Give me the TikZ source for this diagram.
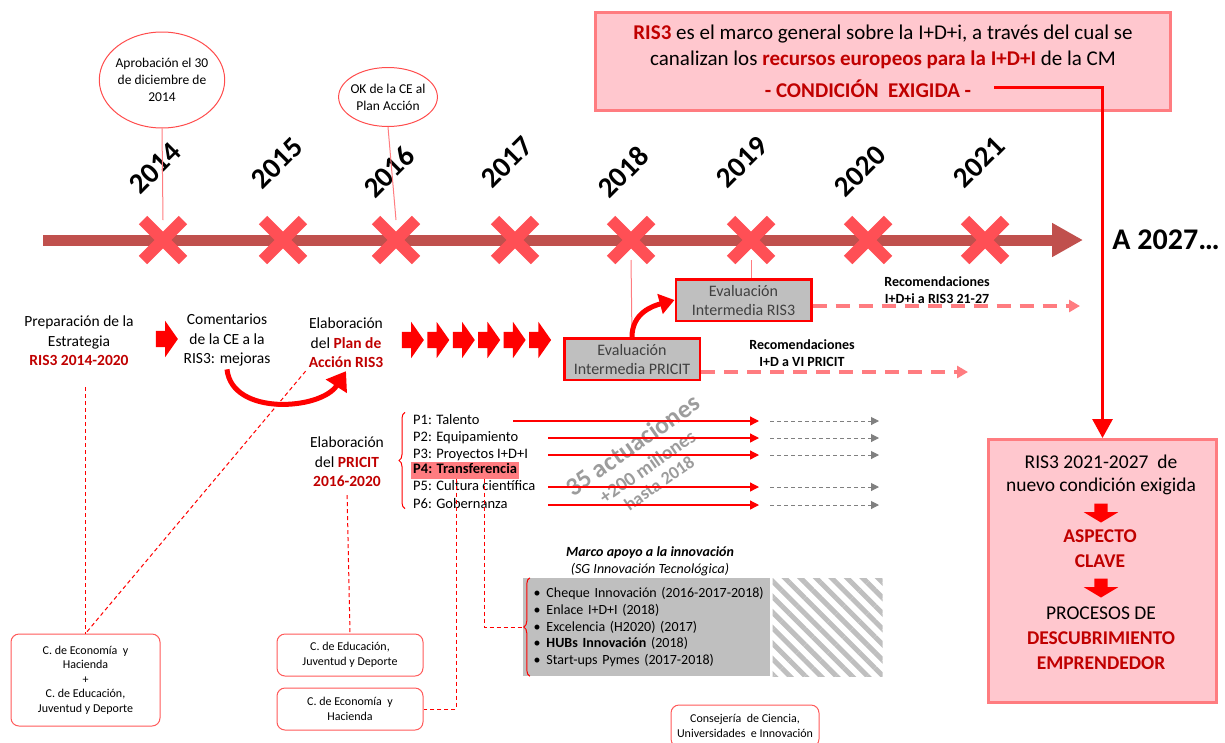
\documentclass[tikz,border=0pt]{standalone}
\usepackage{fontspec}
\setmainfont{Carlito}
\usepackage{xcolor}
\usetikzlibrary{
  positioning,
  shapes.geometric,
  shapes.misc,
  shapes.arrows,
  arrows.meta,
  decorations.pathreplacing,
  patterns.meta
}

\definecolor{barred}{HTML}{C0504D}
\definecolor{crossred}{HTML}{FF4F55}
\definecolor{darkred}{HTML}{C00000}
\definecolor{softpink}{HTML}{FFC7CE}
\definecolor{pinkedge}{HTML}{FF7C80}
\definecolor{boxgray}{HTML}{BFBFBF}
\definecolor{txtgray}{HTML}{404040}
\definecolor{actgray}{HTML}{9C9C9C}

\newcommand{\fsz}[2]{\fontsize{#1}{#2}\selectfont}
\newcommand{\redtxt}[1]{{\color{darkred}\bfseries #1}}
\newcommand{\apbullet}{\hspace*{5pt}\textbullet\hspace{6pt}}

\begin{document}
\begin{tikzpicture}[x=1pt, y=-1pt, every node/.style={font=\fsz{14}{17}},
  yearx/.style={cross out, draw=crossred, line width=12pt, minimum size=28pt, inner sep=0pt},
  yearlabel/.style={rotate=45, font=\fsz{29}{34}\bfseries},
  bubble/.style={ellipse, draw=red!70, line width=1pt, align=center, inner ysep=0pt, font=\fsz{13.5}{17}},
  stage/.style={align=center, inner sep=3pt, font=\fsz{15.5}{19.5}},
  rarrow/.style={single arrow, fill=red, inner xsep=0pt, inner ysep=8pt, minimum height=22pt, single arrow head extend=10pt, single arrow tip angle=110},
  darrow/.style={single arrow, shape border rotate=270, fill=red, inner sep=6.5pt, minimum height=19pt, single arrow head extend=10.5pt, single arrow tip angle=118},
  bigbox/.style={draw=pinkedge, line width=3pt, fill=softpink, align=center},
  evalbox/.style={draw=red, line width=2.5pt, fill=boxgray, text=txtgray, align=center, minimum width=135.5pt, minimum height=41.5pt, font=\fsz{16}{19}},
  recolabel/.style={align=center, font=\fsz{14}{17}\bfseries},
  pitem/.style={anchor=west, inner sep=2pt, text height=10pt, text depth=3pt, font=\fsz{14.5}{17}},
  orgbox/.style={draw=red!65, line width=1pt, rounded corners=8pt, fill=white, align=center, font=\fsz{12}{14.5}},
  thinlink/.style={draw=pinkedge, line width=1pt},
  dashlink/.style={red, line width=1pt, dash pattern=on 4pt off 3pt},
  redbrace/.style={red, line width=1pt, decorate, decoration={brace, amplitude=6pt}},
  bendarrow/.style={red, line width=5pt, -{Triangle[length=18pt, width=24pt]}},
  reqline/.style={red, line width=3pt, -{Triangle[length=19pt, width=20pt]}},
  recoarrow/.style={draw=pinkedge, line width=3.5pt, dash pattern=on 14pt off 9pt, -{Triangle[length=11pt, width=12pt]}},
  parrow/.style={red, line width=1.3pt, -{Triangle[length=9pt, width=9pt]}},
  pnext/.style={gray, line width=1pt, dash pattern=on 4pt off 3pt, -{Triangle[length=8pt, width=8pt]}}
]
\useasboundingbox (0,0) rectangle (1225,742);

% Timeline
\coordinate (tstart) at (43,240);
\coordinate (tend) at (1083,240);
\draw[barred, line width=11pt, -{Triangle[length=31pt, width=32pt]}] (tstart) -- (tend);
\node[yearx] (c2014) at (163,240) {};
\node[yearx] (c2015) at (283,240) {};
\node[yearx] (c2016) at (396,240) {};
\node[yearx] (c2017) at (515,240) {};
\node[yearx] (c2018) at (631,240) {};
\node[yearx] (c2019) at (751,240) {};
\node[yearx] (c2020) at (868,240) {};
\node[yearx] (c2021) at (985,240) {};
\node[yearlabel] (l2014) at (155,168) {2014};
\node[yearlabel] (l2015) at (277,163) {2015};
\node[yearlabel] (l2016) at (389,172) {2016};
\node[yearlabel] (l2017) at (507,162) {2017};
\node[yearlabel] (l2018) at (623,172) {2018};
\node[yearlabel] (l2019) at (742,162) {2019};
\node[yearlabel] (l2020) at (860,171) {2020};
\node[yearlabel] (l2021) at (979,162) {2021};
\node[font=\fsz{30}{36}\bfseries] (a2027) at (1166,240) {A 2027…};

% Milestones
\node[bubble, inner xsep=-2pt, minimum height=96pt] (aprob) at (162,80) {Aprobación el 30\\de diciembre de\\2014};
\node[bubble, inner xsep=-2.5pt, minimum height=59pt] (okce) at (388,97) {OK de la CE al\\Plan Acción};

% Required condition
\node[bigbox, minimum width=575pt, minimum height=98pt, font=\fsz{21}{26}] (ris3) at (883,61.5) {\redtxt{RIS3} es el marco general sobre la I+D+i, a través del cual se\\canalizan los \redtxt{recursos europeos para la I+D+I} de la CM\\[6pt]\redtxt{- CONDICIÓN\ \ EXIGIDA -}\hspace*{30pt}};
\coordinate (cond) at (994,87);
\node[bigbox, minimum width=228pt, minimum height=263pt] (nueva) at (1102.5,571) {};
\node[font=\fsz{19.5}{23.5}, align=center] (nuevotxt) at (1101,475) {RIS3 2021-2027\ \ de\\nuevo condición exigida};
\node[darrow] (down1) at (1101,511) {};
\node[font=\fsz{19.5}{25}\bfseries, text=darkred, align=center] (clave) at (1100,549) {ASPECTO\\CLAVE};
\node[darrow] (down2) at (1101,586) {};
\node[font=\fsz{19.5}{25}, align=center] (procesos) at (1101,638) {PROCESOS DE\\\redtxt{DESCUBRIMIENTO}\\\redtxt{EMPRENDEDOR}};

% RIS3 stages
\node[stage] (prep) at (79,341) {Preparación de la\\Estrategia\\\redtxt{RIS3 2014-2020}};
\node[rarrow] (ra0) at (164,339) {};
\node[stage] (coment) at (227,340) {Comentarios\\de la CE a la\\RIS3: mejoras};
\node[stage] (plan) at (346,343) {Elaboración\\del \redtxt{Plan de}\\\redtxt{Acción RIS3}};
\node[rarrow] (ra1) at (410,340) {};
\node[rarrow, right=3pt of ra1] (ra2) {};
\node[rarrow, right=3pt of ra2] (ra3) {};
\node[rarrow, right=3pt of ra3] (ra4) {};
\node[rarrow, right=3pt of ra4] (ra5) {};
\node[rarrow, right=3pt of ra5] (ra6) {};

% Mid-term evaluations
\node[evalbox] (prbox) at (632,359) {Evaluación\\Intermedia PRICIT};
\node[evalbox] (rsbox) at (743.5,300) {Evaluación\\Intermedia RIS3};
\coordinate (recoend1) at (1080,306);
\coordinate (recoend2) at (968,372);
\node[recolabel] (reco1) at (937,290) {Recomendaciones\\I+D+i a RIS3 21-27};
\node[recolabel] (reco2) at (802,353) {Recomendaciones\\I+D a VI PRICIT};

% PRICIT
\node[stage] (pricit) at (347,462) {Elaboración\\del \redtxt{PRICIT}\\\redtxt{2016-2020}};
\node[pitem] (p1) at (411,421) {P1: Talento};
\node[pitem] (p2) at (411,438) {P2: Equipamiento};
\node[pitem] (p3) at (411,455) {P3: Proyectos I+D+I};
\node[pitem, fill=pinkedge, font=\fsz{14.5}{17}\bfseries] (p4) at (411,470) {P4: Transferencia};
\node[pitem] (p5) at (411,487) {P5: Cultura científica};
\node[pitem] (p6) at (411,505) {P6: Gobernanza};
\coordinate (p1start) at (513,0);
\coordinate (pstart) at (548,0);
\coordinate (ptip) at (759,0);
\coordinate (gstart) at (770,0);
\coordinate (gtip) at (879,0);
\node[rotate=35, align=center, text=actgray, font=\fsz{18}{20}\bfseries] (actua) at (645,463) {{\fsz{25.5}{28}35 actuaciones}\\[4pt]{\fsz{19.5}{21}+200 millones}\\hasta 2018};

% Innovation support
\node[align=center, font=\fsz{14}{17}\itshape] (apoyotit) at (650,561) {\textbf{Marco apoyo a la innovación}\\(SG Innovación Tecnológica)};
\node[fill=boxgray, minimum width=247pt, minimum height=98pt, inner xsep=5.5pt, text width=236pt, align=left, font=\fsz{14}{16.7}] (apoyo) at (646.5,627) {\apbullet Cheque Innovación (2016-2017-2018)\\\apbullet Enlace I+D+I (2018)\\\apbullet Excelencia (H2020) (2017)\\\apbullet\textbf{HUBs Innovación} (2018)\\\apbullet Start-ups Pymes (2017-2018)};
\node[minimum width=110pt, minimum height=98pt, inner sep=0pt, right=0pt of apoyo, pattern={Lines[angle=-45, distance=11pt, line width=5pt]}, pattern color=boxgray] (trama) {};

% Responsible departments
\node[orgbox, minimum width=149pt, minimum height=92pt] (ecoedu) at (85.5,680) {C. de Economía\ \ y\\Hacienda\\+\\C. de Educación,\\Juventud y Deporte};
\node[orgbox, minimum width=146pt, minimum height=42pt] (edu) at (350,655) {C. de Educación,\\Juventud y Deporte};
\node[orgbox, minimum width=146pt, minimum height=42pt] (eco) at (350,709) {C. de Economía\ \ y\\Hacienda};
\node[orgbox, minimum width=148pt, minimum height=42pt] (ciencia) at (745,726) {Consejería\ \ de Ciencia,\\Universidades\ \ e Innovación};

% Arrows
\draw[thinlink] (aprob.south) -- (c2014.north);
\draw[thinlink] (okce.south) -- (c2016.north);
\draw[thinlink] (prbox.north) -- (c2018.south);
\draw[thinlink] (rsbox.north -| c2019) -- (c2019.south);
\draw[reqline] (cond) -| (nueva.north);
\draw[bendarrow] (coment.south) .. controls +(5,47) and +(-25,39) .. (plan.south);
\draw[bendarrow, -{Triangle[length=15pt, width=20pt]}] (prbox.north) .. controls +(0,-24) and +(-22,6) .. (rsbox.west);
\draw[recoarrow] (rsbox.east |- recoend1) -- (recoend1);
\draw[recoarrow] (prbox.east |- recoend2) -- (recoend2);
\draw[redbrace] ([xshift=-6pt,yshift=5pt]p6.south west) -- ([xshift=-6pt]p1.north west);
\draw[parrow] (p1 -| p1start) -- (p1 -| ptip);
\draw[parrow] (p2 -| pstart) -- (p2 -| ptip);
\draw[parrow] (p3 -| pstart) -- (p3 -| ptip);
\draw[parrow] (p5 -| pstart) -- (p5 -| ptip);
\draw[parrow] (p6 -| pstart) -- (p6 -| ptip);
\draw[pnext] (p1 -| gstart) -- (p1 -| gtip);
\draw[pnext] (p2 -| gstart) -- (p2 -| gtip);
\draw[pnext] (p3 -| gstart) -- (p3 -| gtip);
\draw[pnext] (p5 -| gstart) -- (p5 -| gtip);
\draw[pnext] (p6 -| gstart) -- (p6 -| gtip);
\draw[redbrace] ([xshift=7pt]apoyo.south west) -- ([xshift=7pt]apoyo.north west);
\draw[dashlink, shorten <=18pt] (prep.south -| ecoedu.north) -- (ecoedu.north);
\draw[dashlink] (plan.south west) -- (ecoedu.north);
\draw[dashlink, shorten <=5pt] (pricit.south) -- (edu.north);
\draw[dashlink] ([xshift=45pt]p4.south west) |- (eco.east);
\draw[dashlink] ([xshift=73pt]p4.south west) |- (apoyo.west);

\end{tikzpicture}
\end{document}
